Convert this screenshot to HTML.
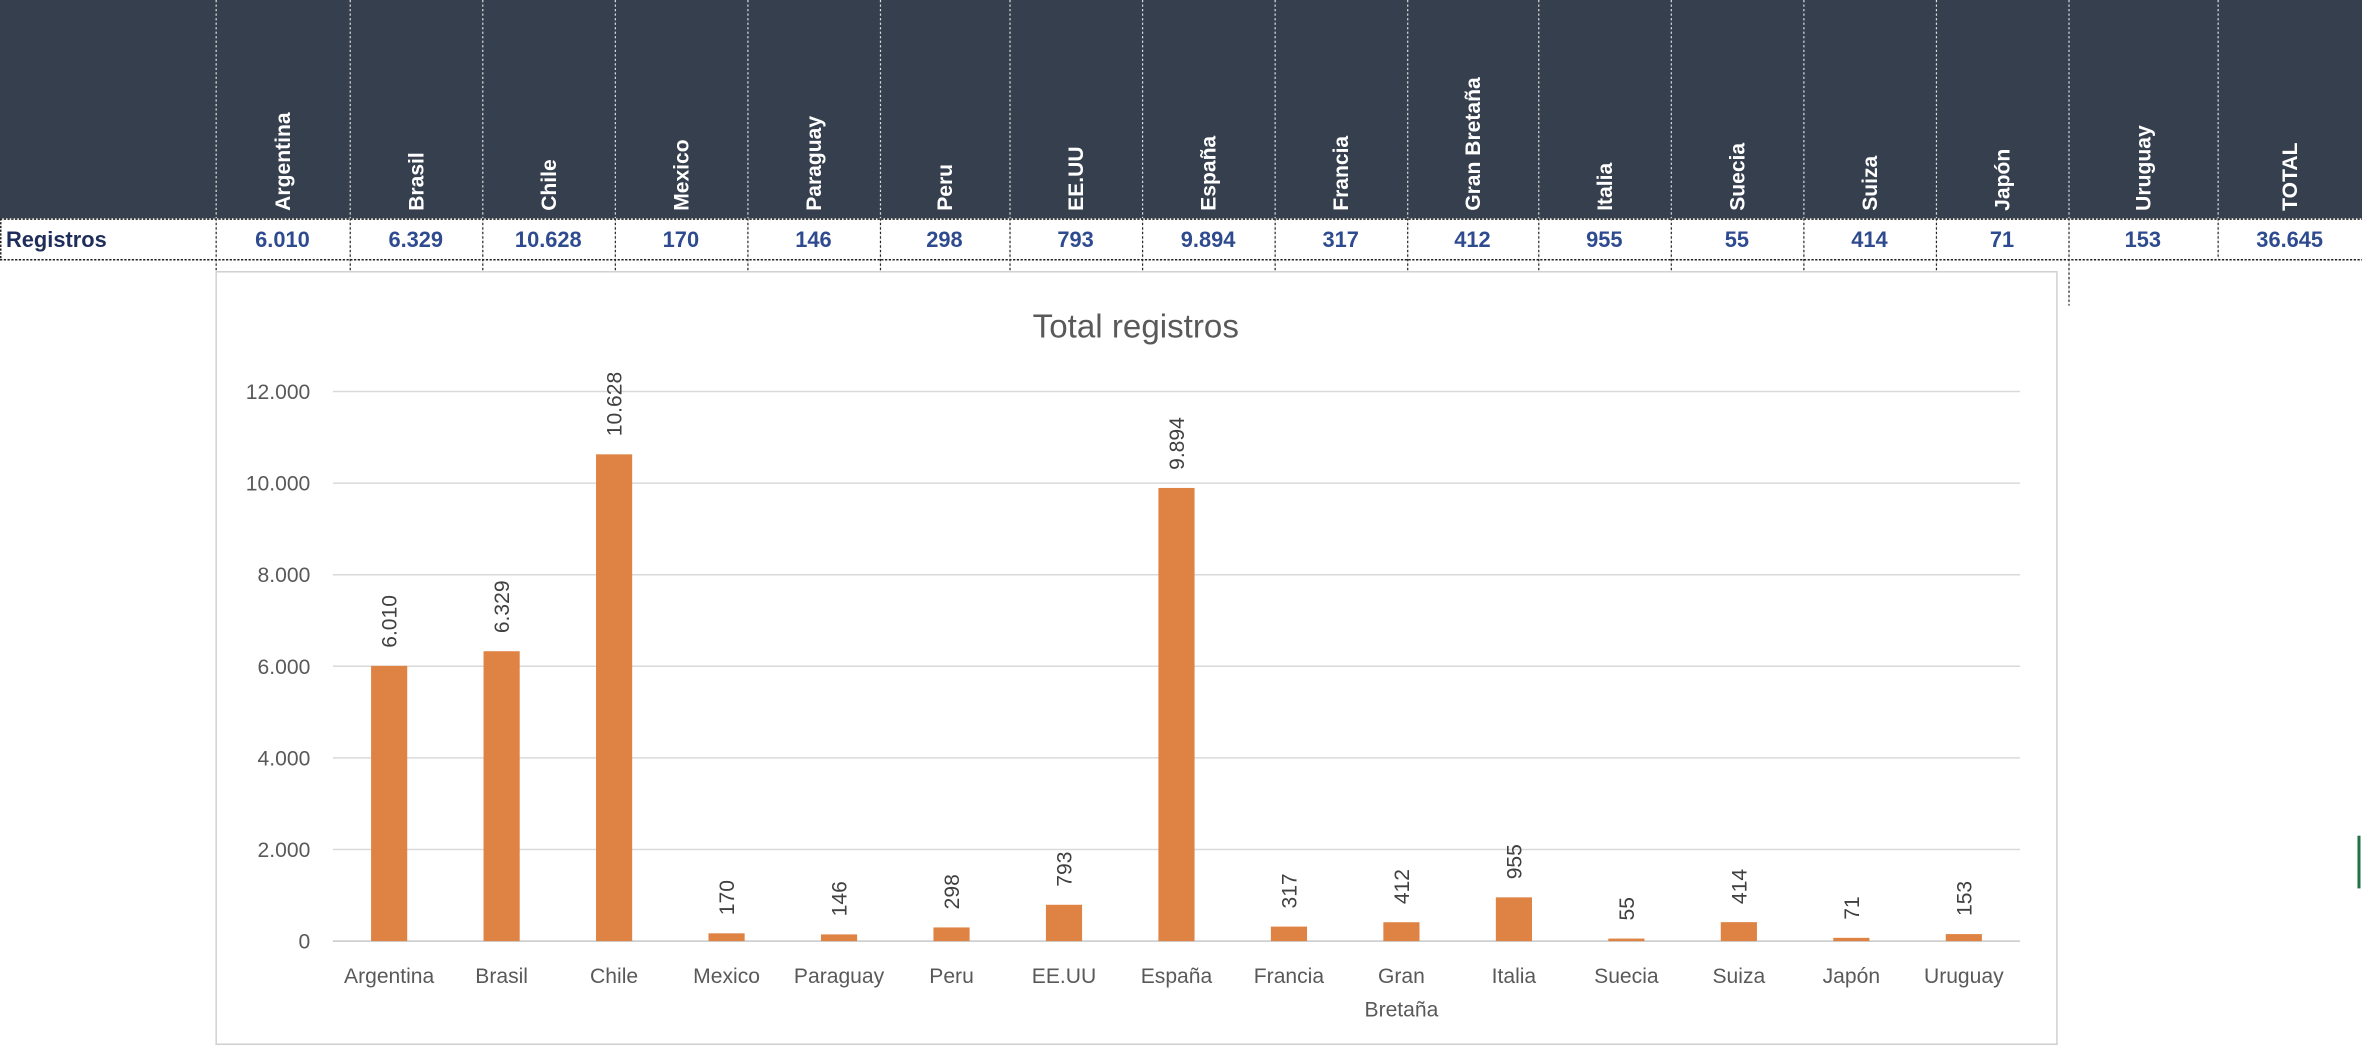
<!DOCTYPE html>
<html><head><meta charset="utf-8"><style>
html,body{margin:0;padding:0;background:#fff;}
svg{display:block;}
</style></head><body>
<svg id="root" width="2362" height="1048" viewBox="0 0 1568 696" preserveAspectRatio="none" xmlns="http://www.w3.org/2000/svg" font-family="'Liberation Sans', sans-serif">
<rect x="0" y="0" width="1568" height="145" fill="#363f4e"/>
<g id="table"></g>
<rect x="143.5" y="180.5" width="1222" height="513" fill="#fff" stroke="#d0d0d0" stroke-width="1"/>
<text x="754" y="224" text-anchor="middle" font-size="22" fill="#595959">Total registros</text>
<g id="chart"></g>
<rect x="1565" y="555" width="2" height="35" fill="#217346"/>
</svg>
<script>
const categories=["Argentina","Brasil","Chile","Mexico","Paraguay","Peru","EE.UU","España","Francia","Gran Bretaña","Italia","Suecia","Suiza","Japón","Uruguay"];
const values=[6010,6329,10628,170,146,298,793,9894,317,412,955,55,414,71,153];
const valueLabels=["6.010","6.329","10.628","170","146","298","793","9.894","317","412","955","55","414","71","153"];
const totalLabel="36.645";
const yTicks=[0,2000,4000,6000,8000,10000,12000];
const yTickLabels=["0","2.000","4.000","6.000","8.000","10.000","12.000"];

const NS="http://www.w3.org/2000/svg";
function mk(tag,attrs,parent,text){const e=document.createElementNS(NS,tag);for(const k in attrs)e.setAttribute(k,attrs[k]);if(text!==undefined)e.textContent=text;parent.appendChild(e);return e;}

// table
const table=document.getElementById('table');
const colX=[0,143,232,320,408,496,584,670,758,846,934,1021,1109,1197,1285,1373,1472,1568];
const headers=categories.concat(["TOTAL"]);
const rowVals=valueLabels.concat([totalLabel]);
for(let i=0;i<headers.length;i++){
  const x0=colX[i+1],x1=colX[i+2],cx=(x0+x1)/2;
  const h=mk('text',{x:cx+5,y:140,'font-size':14,'font-weight':'bold',fill:'#fff',transform:`rotate(-90 ${cx+5} 140)`},table,headers[i]);
  
  
  const v=mk('text',{x:cx,y:164,'text-anchor':'middle','font-size':14.5,'font-weight':'bold',fill:'#2f4b8f'},table,rowVals[i]);
  
  
}
const rl=mk('text',{x:4,y:164,'font-size':14.5,'font-weight':'bold',fill:'#1f2d5a'},table,"Registros");


for(let i=1;i<colX.length-1;i++){
  const x=colX[i]+0.5;
  let bottom=180;
  if(i===15) bottom=203;
  if(i===16) bottom=172;
  const l=mk('line',{x1:x,y1:0,x2:x,y2:bottom,stroke:i<=14||i===15?'#ddd':'#ddd','stroke-width':0.8,'stroke-dasharray':'1.5,1.5'},table);
  
  
  const l2=mk('line',{x1:x,y1:145,x2:x,y2:bottom,stroke:'#222','stroke-width':0.8,'stroke-dasharray':'1.5,1.5'},table);
  
  
}
[145.5,172.5].forEach(y=>{const l=mk('line',{x1:0,y1:y,x2:1568,y2:y,stroke:'#222','stroke-width':1,'stroke-dasharray':'1.5,1'},table);

});
const lb=mk('line',{x1:0.5,y1:145,x2:0.5,y2:172,stroke:'#222','stroke-width':1,'stroke-dasharray':'1.5,1'},table);



// chart
const chart=document.getElementById('chart');
const plotL=221,plotR=1341,yTop=260,yBot=625,yMax=12000;
const yS=v=>yBot-(v/yMax)*(yBot-yTop);
const band=(plotR-plotL)/categories.length;
const xC=i=>plotL+band*(i+0.5);
yTicks.forEach((t,i)=>{
  const g=mk('line',{x1:plotL,y1:yS(t),x2:plotR,y2:yS(t),stroke:i===0?'#c8c8c8':'#d9d9d9','stroke-width':1},chart);
  
  
  const tl=mk('text',{x:206,y:yS(t)+5,'text-anchor':'end','font-size':14,fill:'#595959'},chart,yTickLabels[i]);
  
  
});
const bw=24;
values.forEach((v,i)=>{
  const b=mk('rect',{x:xC(i)-bw/2,y:yS(v),width:bw,height:yBot-yS(v),fill:'#df8344'},chart);
  
  
  const ly=yS(v)-12,lx=xC(i)+5;
  const t=mk('text',{x:lx,y:ly,'font-size':14,fill:'#404040',transform:`rotate(-90 ${lx} ${ly})`},chart,valueLabels[i]);
  
  
  const parts=categories[i]==="Gran Bretaña"?["Gran","Bretaña"]:[categories[i]];
  parts.forEach((p,k)=>{
    const c=mk('text',{x:xC(i),y:653+k*22,'text-anchor':'middle','font-size':14,fill:'#595959'},chart,p);
    
    
  });
});
</script>
</body></html>
